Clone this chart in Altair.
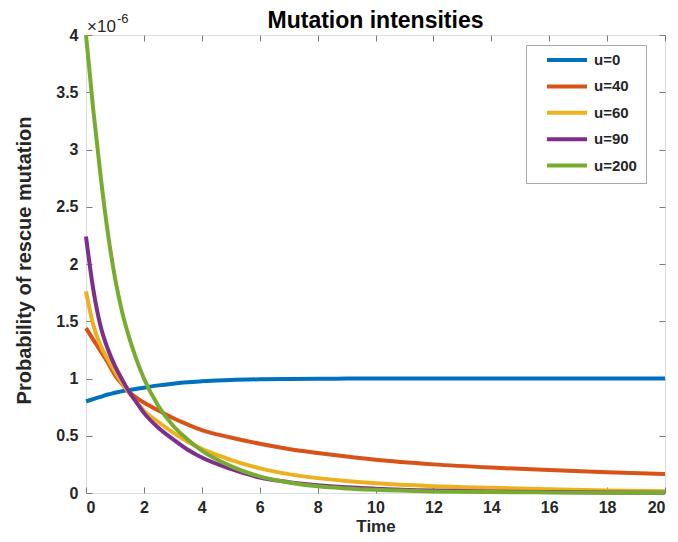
import altair as alt
import pandas as pd

# Time points (x) and probabilities (in units of 1e-6)
t = [0, 0.25, 0.5, 0.75, 1, 1.25, 1.5, 1.75, 2, 2.5, 3, 3.5, 4, 5, 6, 7, 8, 9, 10, 12, 14, 16, 18, 20]
u0 = [0.80, 0.82, 0.84, 0.86, 0.875, 0.89, 0.90, 0.91, 0.92, 0.94, 0.955, 0.967, 0.975, 0.987, 0.993, 0.996, 0.998, 0.999, 1.0, 1.0, 1.0, 1.0, 1.0, 1.0]
u40 = [1.44, 1.34, 1.24, 1.14, 1.03, 0.95, 0.88, 0.83, 0.79, 0.72, 0.655, 0.60, 0.55, 0.485, 0.43, 0.385, 0.35, 0.318, 0.29, 0.25, 0.222, 0.20, 0.182, 0.166]
u60 = [1.76, 1.47, 1.29, 1.17, 1.06, 0.96, 0.87, 0.79, 0.72, 0.62, 0.53, 0.45, 0.385, 0.29, 0.215, 0.165, 0.13, 0.105, 0.085, 0.06, 0.045, 0.032, 0.022, 0.015]
u90 = [2.24, 1.78, 1.46, 1.26, 1.11, 0.99, 0.88, 0.79, 0.70, 0.57, 0.47, 0.38, 0.31, 0.21, 0.135, 0.095, 0.068, 0.05, 0.038, 0.022, 0.013, 0.008, 0.005, 0.003]
u200 = [4.0, 3.35, 2.78, 2.28, 1.88, 1.58, 1.35, 1.16, 1.0, 0.76, 0.59, 0.47, 0.37, 0.235, 0.145, 0.092, 0.058, 0.04, 0.028, 0.014, 0.008, 0.005, 0.003, 0.002]

labels = ["u=0", "u=40", "u=60", "u=90", "u=200"]
colors = ["#0072BD", "#D95319", "#EDB120", "#7E2F8E", "#77AC30"]
x_ticks = [0, 2, 4, 6, 8, 10, 12, 14, 16, 18, 20]
y_ticks = [0, 0.5, 1, 1.5, 2, 2.5, 3, 3.5, 4]
title_text = ["Mutation intensities"]
exponent_text = ["\u00d710", "-6"]

series = [u0, u40, u60, u90, u200]
rows = []
for k, (lab, vals) in enumerate(zip(labels, series)):
    for ti, v in zip(t, vals):
        rows.append({"t": ti, "p": v, "series": lab, "k": k})
df = pd.DataFrame(rows)

W, H = 579, 458
FONT = "Liberation Sans"
BOX = "#7a7a7a"
TXT = "#262626"
PAD = "\u00a0" * 6

xs = alt.Scale(domain=[0, 20], nice=False, zero=False)
ys = alt.Scale(domain=[0, 4], nice=False, zero=False)

lines = alt.Chart(df).mark_line(strokeWidth=4, interpolate="monotone").encode(
    x=alt.X("t:Q", scale=xs, axis=alt.Axis(
        title="Time", values=x_ticks, tickSize=0, domain=False, grid=False,
        labelFontSize=16, labelFontWeight="bold", labelFont=FONT, labelColor=TXT,
        labelPadding=6, titleFontSize=17, titleFontWeight="bold", titleFont=FONT,
        titleColor=TXT, titleBaseline="alphabetic", titleY=38)),
    y=alt.Y("p:Q", scale=ys, axis=alt.Axis(
        title="Probability of rescue mutation", values=y_ticks, tickSize=0,
        domain=False, grid=False, labelExpr="'' + datum.value",
        labelFontSize=16, labelFontWeight="bold", labelFont=FONT, labelColor=TXT,
        labelPadding=8, titleFontSize=20, titleFontWeight="bold", titleFont=FONT,
        titleColor=TXT, titleBaseline="alphabetic", titleAngle=-90,
        titleX=-56, titleY=H / 2 - 4, titleAlign="center")),
    color=alt.Color("series:N", scale=alt.Scale(domain=labels, range=colors),
                    legend=alt.Legend(
                        orient="none", legendX=440, legendY=10, title=None,
                        symbolType="stroke", symbolSize=1600, symbolStrokeWidth=4,
                        symbolOffset=10, clipHeight=12, rowPadding=11.4,
                        labelFontSize=15, labelFontWeight="bold", labelFont=FONT,
                        labelColor=TXT, labelOffset=5, padding=9,
                        labelExpr="datum.label + '" + PAD + "'",
                        strokeColor="#a8a8a8", fillColor="white")),
    order=alt.Order("k:Q"),
)

tick_common = dict(labels=False, domain=False, ticks=True, tickSize=6,
                   tickColor=BOX, grid=False, title=None)

ticks_a = alt.Chart(df).mark_line(opacity=0).encode(
    x=alt.X("t:Q", scale=xs, axis=alt.Axis(orient="top", offset=-H, values=x_ticks, **tick_common)),
    y=alt.Y("p:Q", scale=ys, axis=alt.Axis(orient="right", offset=-W, values=y_ticks, **tick_common)),
    detail="series:N",
)
ticks_b = alt.Chart(df).mark_line(opacity=0).encode(
    x=alt.X("t:Q", scale=xs, axis=alt.Axis(orient="bottom", offset=-H, values=x_ticks, **tick_common)),
    y=alt.Y("p:Q", scale=ys, axis=alt.Axis(orient="left", offset=-W, values=y_ticks, **tick_common)),
    detail="series:N",
)

title_mark = alt.Chart(pd.DataFrame({"s": title_text})).mark_text(
    align="center", baseline="alphabetic", fontSize=23, fontWeight="bold",
    font=FONT, color="black"
).encode(text="s:N", x=alt.value(W / 2), y=alt.value(-7))

exp_base = alt.Chart(pd.DataFrame({"s": exponent_text[:1]})).mark_text(
    align="left", baseline="alphabetic", fontSize=17, font=FONT, color=TXT
).encode(text="s:N", x=alt.value(1), y=alt.value(-3))
exp_sup = alt.Chart(pd.DataFrame({"s": exponent_text[1:]})).mark_text(
    align="left", baseline="alphabetic", fontSize=13, font=FONT, color=TXT
).encode(text="s:N", x=alt.value(31), y=alt.value(-12))

chart = alt.layer(ticks_a, ticks_b, lines, title_mark, exp_base, exp_sup).resolve_axis(
    x="independent", y="independent"
).properties(
    width=W, height=H,
    autosize=alt.AutoSizeParams(type="none"),
    padding={"left": 78, "top": 27, "right": 5, "bottom": 41},
).configure_view(stroke=BOX, strokeWidth=1).configure(background="white")

chart.save("out.html", embed_options={"renderer": "svg", "actions": False})
